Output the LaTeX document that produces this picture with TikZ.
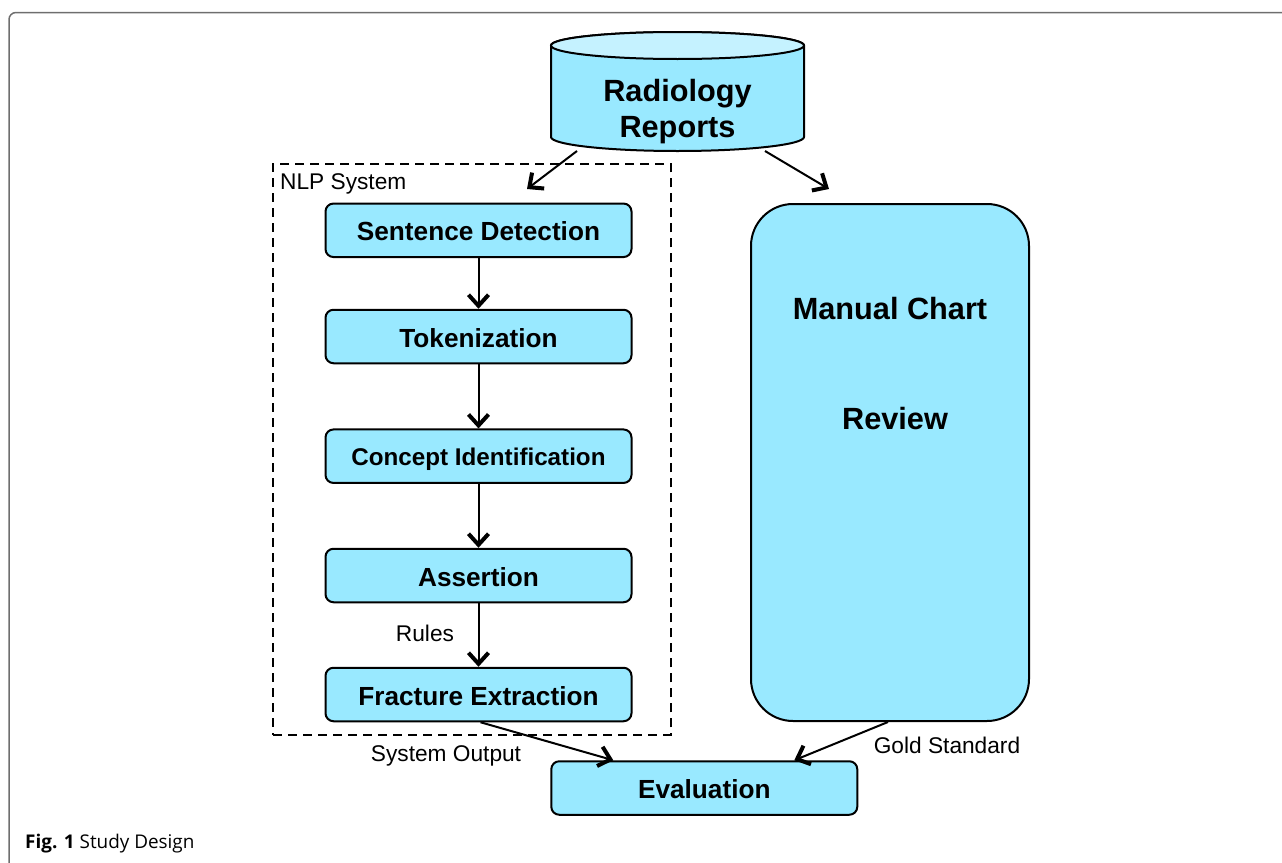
\documentclass[tikz,border=0pt]{standalone}
\usepackage{fontspec}
\setmainfont{Liberation Sans}
\newfontfamily\capfont{Open Sans}
\usetikzlibrary{arrows.meta}
\definecolor{boxfill}{RGB}{153,233,255}
\definecolor{cyltop}{RGB}{197,242,255}
\definecolor{framegray}{RGB}{110,110,110}
\tikzset{
  procbox/.style={draw=black, line width=2pt, fill=boxfill, rounded corners=8pt,
    minimum width=306pt, minimum height=53.5pt, inner sep=0pt,
    font=\fontsize{26.2pt}{30pt}\selectfont\bfseries, text height=21pt, text depth=0pt},
  conn/.style={line width=2pt, -{Straight Barb[length=11pt,width=20pt,line width=4pt]}},
  lbl/.style={font=\fontsize{22.7pt}{26pt}\selectfont, inner sep=0pt, anchor=base},
  bigtxt/.style={font=\fontsize{30.7pt}{36pt}\selectfont\bfseries, inner sep=0pt},
}
\begin{document}
\begin{tikzpicture}[x=1pt,y=-1pt]
\useasboundingbox (0,0) rectangle (1282,862);
% outer frame
\draw[framegray, line width=1.5pt, rounded corners=7pt] (9,875) -- (9,12.5) -- (1295,12.5);

% cylinder
\path[draw=black, line width=2pt, fill=boxfill]
  (551,45.5) -- (551,137) arc[start angle=180, end angle=0, x radius=126.5, y radius=14]
  -- (804,45.5) arc[start angle=0, end angle=-180, x radius=126.5, y radius=13.5] -- cycle;
\draw[black, line width=2pt, fill=cyltop] (677.5,45.5) ellipse [x radius=126.5, y radius=13.5];
\node[bigtxt, align=center, anchor=north] (rr) at (677.5,79.5) {Radiology\\Reports};
\coordinate (rrL) at (577,151);
\coordinate (rrR) at (765,151);

% NLP system dashed box
\node[draw=black, line width=2pt, dash pattern=on 9pt off 6pt, minimum width=397.4pt,
  minimum height=571pt, inner sep=0pt] (nlp) at (472,449.5) {};
\node[lbl, anchor=base west] (nlplbl) at (280,189.5) {NLP System};

% process boxes
\node[procbox] (sd) at (478.5,230.3) {Sentence Detection};
\node[procbox] (tok) at (478.5,336.5) {Tokenization};
\node[procbox, font=\fontsize{24.2pt}{28pt}\selectfont\bfseries, text height=19.5pt] (ci) at (478.5,456.2) {Concept Identification};
\node[procbox] (as) at (478.5,575.5) {Assertion};
\node[procbox] (fe) at (478.5,694.5) {Fracture Extraction};
\node[procbox] (ev) at (704.3,788) {Evaluation};

% manual chart review
\node[draw=black, line width=2pt, fill=boxfill, rounded corners=42pt,
  minimum width=278pt, minimum height=517pt, inner sep=0pt] (mcr) at (890,462.5) {};
\node[bigtxt, anchor=base] (mt1) at (890,319) {Manual Chart};
\node[bigtxt, anchor=base] (mt2) at (895,429) {Review};

% connectors
\draw[conn] (rrL) -- (527,189);
\draw[conn] (rrR) -- (829,189);
\draw[conn] (sd.south) -- (tok.north);
\draw[conn] (tok.south) -- (ci.north);
\draw[conn] (ci.south) -- (as.north);
\draw[conn] (as.south) -- (fe.north);
\draw[conn] ([xshift=2pt]fe.south) -- ([xshift=63pt]ev.north west);
\draw[conn] ([xshift=-2pt]mcr.south) -- ([xshift=-64pt]ev.north east);

% labels
\node[lbl] (rules) at (425,641) {Rules};
\node[lbl] (sysout) at (446,761) {System Output};
\node[lbl] (gold) at (947,753) {Gold Standard};

% caption
\node[anchor=base west, inner sep=0pt, font=\capfont\fontsize{18.9pt}{22pt}\selectfont] (cap)
  at (25,848) {\textbf{Fig. 1} Study Design};
\end{tikzpicture}
\end{document}
